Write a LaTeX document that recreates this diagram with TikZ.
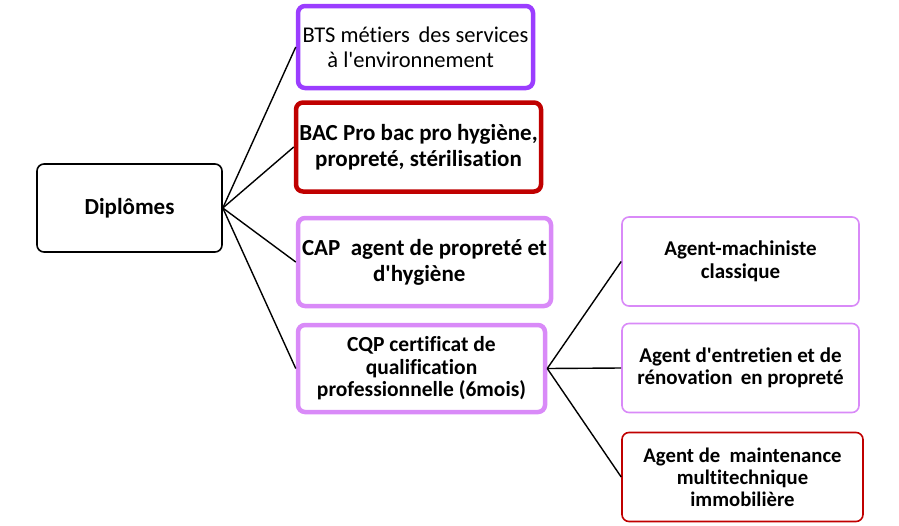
\documentclass[tikz,border=0pt]{standalone}
\usepackage{fontspec}
\setmainfont{Carlito}[Ligatures=NoCommon]
\usetikzlibrary{shapes}
\definecolor{violetbts}{RGB}{155,61,255}
\definecolor{rougebac}{RGB}{192,0,0}
\definecolor{lilas}{RGB}{217,138,248}
\newcommand{\apos}{\textquotesingle}
\tikzset{
	boxnode/.style = {
		rectangle,
		rounded corners=7pt,
		align=center,
		inner sep=0pt,
		text centered,
		fill=white
	},
	node_root/.style = {
		boxnode,
		draw=black,
		line width=1.6pt,
		minimum width=185pt,
		minimum height=88pt,
		font=\fontsize{23}{26}\selectfont\bfseries
	},
	node_bts/.style = {
		boxnode,
		draw=violetbts,
		line width=4.5pt,
		font=\fontsize{22.5}{25}\selectfont
	},
	node_bac/.style = {
		boxnode,
		draw=rougebac,
		line width=4.5pt,
		font=\fontsize{23}{26.5}\selectfont\bfseries
	},
	node_lilas/.style = {
		boxnode,
		draw=lilas,
		line width=4.5pt,
		font=\fontsize{23}{26}\selectfont\bfseries
	},
	node_leaf/.style = {
		boxnode,
		draw=lilas,
		line width=1.6pt,
		minimum width=237pt,
		minimum height=89pt,
		font=\fontsize{21}{22.5}\selectfont\bfseries
	},
	node_leaf_r/.style = {
		node_leaf,
		draw=rougebac
	},
	branch/.style = {
		draw=black,
		line width=1.4pt
	}
}
\begin{document}
\begin{tikzpicture}[x=1pt,y=-1pt]
\useasboundingbox (0,0) rectangle (899,525);
% root
\node [node_root] (dipl) at (129.5,208) {Diplômes};
% diplomas
\node [node_bts, minimum width=235pt, minimum height=82pt] (bts) at (415.5,47)
	{BTS métiers\, des services\\ à l\apos environnement\phantom{x}};
\node [node_bac, minimum width=245pt, minimum height=89pt] (bac) at (418.5,147)
	{BAC Pro bac pro hygiène,\\ propreté, stérilisation};
\node [node_lilas, minimum width=253pt, minimum height=88pt] (cap) at (424.5,262)
	{CAP\ \ agent de propreté et\\ d\apos hygiène\phantom{x}};
\node [node_lilas, minimum width=247pt, minimum height=87pt,
	font=\fontsize{21.5}{22.5}\selectfont\bfseries] (cqp) at (421.5,368.5)
	{CQP certificat de\\ qualification\\ professionnelle (6mois)};
% CQP jobs
\node [node_leaf] (mach) at (740.5,261.5) {Agent-machiniste\\ classique};
\node [node_leaf] (entr) at (740.5,368) {Agent d\apos entretien et de\\ rénovation\, en propreté};
\node [node_leaf_r, minimum width=241pt, font=\fontsize{20.7}{22}\selectfont\bfseries] (maint) at (742.5,477)
	{Agent de\ \ maintenance\\ multitechnique\\ immobilière};
% branches
\foreach \n in {bts,bac,cap,cqp}
	\draw [branch] (dipl.east) -- (\n.west);
\foreach \n in {mach,entr,maint}
	\draw [branch] (cqp.east) -- (\n.west);
\end{tikzpicture}
\end{document}
